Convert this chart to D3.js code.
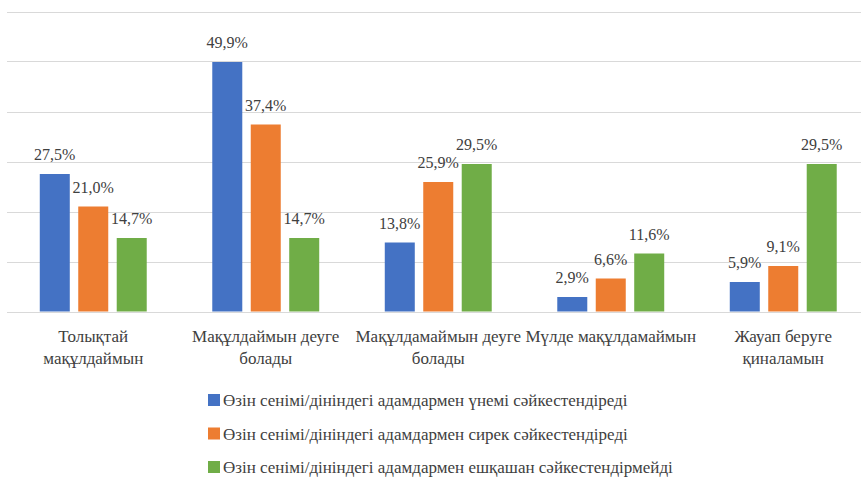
<!DOCTYPE html>
<html>
<head>
<meta charset="utf-8">
<script src="https://cdn.jsdelivr.net/npm/d3@7"></script>
</head>
<body style="margin:0">
<div id="chart"></div>
<script>
// categories (line breaks as in the picture)
const categories = [
  ['Толықтай', 'мақұлдаймын'],
  ['Мақұлдаймын деуге', 'болады'],
  ['Мақұлдамаймын деуге', 'болады'],
  ['Мүлде мақұлдамаймын'],
  ['Жауап беруге', 'қиналамын']
];
const seriesNames = [
  'Өзін сенімі/дініндегі адамдармен үнемі сәйкестендіреді',
  'Өзін сенімі/дініндегі адамдармен сирек сәйкестендіреді',
  'Өзін сенімі/дініндегі адамдармен ешқашан сәйкестендірмейді'
];
const always = [27.5, 49.9, 13.8, 2.9, 5.9];
const rarely = [21.0, 37.4, 25.9, 6.6, 9.1];
const never = [14.7, 14.7, 29.5, 11.6, 29.5];
const gridTicks = [0, 10, 20, 30, 40, 50, 60];

const colors = ['#4472C4', '#ED7D31', '#70AD47'];
const series = [always, rarely, never];

const width = 861, height = 477;
const fontFam = 'Tinos';
const textColor = '#404040';

const svg = d3.select('#chart')
  .append('svg')
  .attr('width', width)
  .attr('height', height);

const x = d3.scaleBand()
  .domain(d3.range(categories.length))
  .range([7, 869.5])
  .paddingInner(0.38)
  .paddingOuter(0.19);

const xSub = d3.scaleBand()
  .domain(d3.range(series.length))
  .range([0, x.bandwidth()])
  .paddingInner(0.22);

const y = d3.scaleLinear()
  .domain([0, 60])
  .range([311.5, 11.5]);

// gridlines
svg.append('g')
  .selectAll('line')
  .data(gridTicks)
  .join('line')
  .attr('x1', 7)
  .attr('x2', width)
  .attr('y1', d => Math.round(y(d)) + 0.5)
  .attr('y2', d => Math.round(y(d)) + 0.5)
  .attr('stroke', '#d9d9d9')
  .attr('stroke-width', 1);

const fmt = v => d3.format('.1f')(v).replace('.', ',') + '%';

// bars
const groups = svg.append('g')
  .selectAll('g')
  .data(series)
  .join('g')
  .attr('fill', (d, i) => colors[i]);

groups.selectAll('rect')
  .data((d, si) => d.map((v, ci) => ({ v, ci, si })))
  .join('rect')
  .attr('x', d => x(d.ci) + xSub(d.si))
  .attr('y', d => y(d.v))
  .attr('width', xSub.bandwidth())
  .attr('height', d => y(0) - y(d.v));

// value labels
groups.selectAll('text')
  .data((d, si) => d.map((v, ci) => ({ v, ci, si })))
  .join('text')
  .attr('x', d => x(d.ci) + xSub(d.si) + xSub.bandwidth() / 2)
  .attr('y', d => y(d.v) - 14)
  .attr('text-anchor', 'middle')
  .style('font-family', fontFam)
  .attr('font-size', 16)
  .attr('fill', textColor)
  .text(d => fmt(d.v));

// category labels
const catG = svg.append('g')
  .selectAll('text')
  .data(categories)
  .join('text')
  .attr('x', (d, i) => x(i) + x.bandwidth() / 2)
  .attr('y', 342)
  .attr('text-anchor', 'middle')
  .style('font-family', fontFam)
  .attr('font-size', 17)
  .attr('fill', textColor);

catG.selectAll('tspan')
  .data(d => d)
  .join('tspan')
  .attr('x', function () { return this.parentNode.getAttribute('x'); })
  .attr('dy', (d, i) => (i === 0 ? 0 : 22))
  .text(d => d);

// legend
const legend = svg.append('g')
  .selectAll('g')
  .data(seriesNames)
  .join('g')
  .attr('transform', (d, i) => `translate(208, ${394 + i * 33.5})`);

legend.append('rect')
  .attr('width', 12)
  .attr('height', 12)
  .attr('fill', (d, i) => colors[i]);

legend.append('text')
  .attr('x', 15)
  .attr('y', 12)
  .style('font-family', fontFam)
  .attr('font-size', 17)
  .attr('fill', textColor)
  .text(d => d);
</script>
</body>
</html>
